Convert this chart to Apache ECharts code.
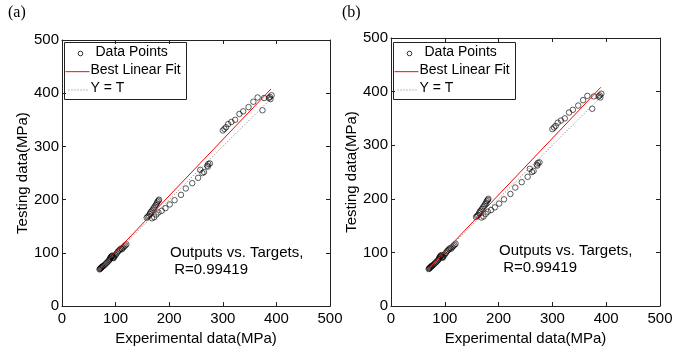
<!DOCTYPE html>
<html>
<head>
<meta charset="utf-8">
<script src="https://cdn.jsdelivr.net/npm/echarts@6/dist/echarts.min.js"></script>
<style>
  html, body { margin: 0; padding: 0; background: #fff; }
  #main { width: 676px; height: 351px; }
</style>
</head>
<body>
<div id="main"></div>
<script>
// 数据点 (Experimental, Testing)
var expData = [70, 71, 72, 73, 74, 75, 76, 78, 80, 82, 84, 86, 88, 89, 90, 91, 92, 93, 94, 95, 96, 97, 98, 100, 102, 104, 106, 108, 110, 112, 114, 116, 118, 120,
  158, 160, 162, 164, 165, 167, 169, 171, 173, 175, 177, 178, 180, 181,
  168, 172, 176, 180, 186, 193, 201, 210, 222, 231, 243, 254, 258, 262, 265, 271, 272, 273, 276,
  300, 303, 306, 310, 316, 323, 331, 338, 348, 357, 365, 374, 377, 386, 388, 389, 391];
var testData = [69, 70, 71, 72, 73, 74, 75, 76, 78, 80, 82, 84, 86, 88, 90, 92, 93, 94, 95, 91, 90, 92, 94, 96, 99, 102, 104, 106, 108, 107, 110, 112, 114, 116,
  166, 168, 170, 173, 176, 178, 181, 184, 187, 190, 193, 196, 198, 200,
  165, 167, 172, 176, 179, 184, 191, 199, 209, 221, 231, 241, 256, 250, 252, 264, 262, 267, 268,
  330, 333, 336, 342, 346, 350, 361, 366, 374, 384, 392, 368, 391, 391, 393, 389, 396];
// 拟合线和 Y=T 的端点
var fitX = [70, 390];
var fitY = [70, 408];
var idX = [70, 390];
var idY = [70, 390];
var legendNames = ['Data Points', 'Best Linear Fit', 'Y = T'];

var points = expData.map(function (v, i) { return [v, testData[i]]; });
var fitLine = fitX.map(function (v, i) { return [v, fitY[i]]; });
var idLine = idX.map(function (v, i) { return [v, idY[i]]; });

var font = 'Liberation Sans, Arial, sans-serif';
var grids = [
  { left: 62, top: 40, width: 268, height: 267 },
  { left: 391, top: 38, width: 269, height: 268 }
];

function makeAxis(gridIndex, pos, isMain, name) {
  return {
    type: 'value', gridIndex: gridIndex, position: pos,
    min: 0, max: 500, interval: 100,
    name: isMain ? name : '',
    nameLocation: 'middle',
    nameGap: pos === 'bottom' ? 16 : 32,
    nameTextStyle: { color: '#000', fontFamily: font, fontSize: 15 },
    axisLine: { show: true, onZero: false, lineStyle: { color: '#222', width: 1 } },
    axisTick: { show: true, inside: true, length: 4, lineStyle: { color: '#222' } },
    axisLabel: { show: isMain, color: '#000', fontFamily: font, fontSize: 15, margin: pos === 'bottom' ? 5 : 3 },
    splitLine: { show: false }
  };
}

// 图例（手工画的 MATLAB 风格图例框）
function makeLegend(x, y) {
  var f = '14px ' + font;
  return {
    type: 'group', left: x, top: y, z: 100,
    children: [
      { type: 'rect', shape: { x: 0, y: 0, width: 122, height: 57 }, style: { fill: '#fff', stroke: '#222', lineWidth: 1 } },
      { type: 'circle', shape: { cx: 16, cy: 11, r: 2.3 }, style: { fill: 'none', stroke: '#000', lineWidth: 0.8 } },
      { type: 'text', x: 31, y: 3, style: { text: legendNames[0], fill: '#000', font: f } },
      { type: 'rect', shape: { x: 1, y: 28.5, width: 24, height: 1.2 }, style: { fill: '#ff3030' } },
      { type: 'text', x: 26, y: 21, style: { text: legendNames[1], fill: '#000', font: f } },
      { type: 'line', shape: { x1: 4, y1: 47.5, x2: 25, y2: 47.5 }, style: { stroke: '#777', lineWidth: 1, lineDash: [1, 2] } },
      { type: 'text', x: 26, y: 39, style: { text: legendNames[2], fill: '#000', font: f } }
    ]
  };
}

var xAxes = [], yAxes = [], series = [], texts = [];
grids.forEach(function (g, k) {
  xAxes.push(makeAxis(k, 'bottom', true, 'Experimental data(MPa)'));
  xAxes.push(makeAxis(k, 'top', false));
  yAxes.push(makeAxis(k, 'left', true, 'Testing data(MPa)'));
  yAxes.push(makeAxis(k, 'right', false));
  series.push({
    name: legendNames[0], type: 'scatter', xAxisIndex: k * 2, yAxisIndex: k * 2,
    symbol: 'circle', symbolSize: 5.5,
    itemStyle: { color: 'rgba(0,0,0,0)', borderColor: '#000', borderWidth: 0.8 },
    data: points
  });
  series.push({
    name: legendNames[1], type: 'line', xAxisIndex: k * 2, yAxisIndex: k * 2,
    symbol: 'none', lineStyle: { color: '#f00', width: 1 },
    data: fitLine
  });
  series.push({
    name: legendNames[2], type: 'line', xAxisIndex: k * 2, yAxisIndex: k * 2,
    symbol: 'none', lineStyle: { color: '#777', width: 1, type: [1, 2] },
    data: idLine
  });
  texts.push(makeLegend(g.left + 2, 42));
  texts.push({
    type: 'text', left: g.left + 108, top: g.top + 204,
    style: { text: 'Outputs vs. Targets,\n R=0.99419', fill: '#000', font: '15px ' + font, lineHeight: 17 }
  });
});

texts.push({ type: 'text', left: 8, top: 5, style: { text: '(a)', fill: '#000', font: '16px Liberation Serif, serif' } });
texts.push({ type: 'text', left: 342, top: 5, style: { text: '(b)', fill: '#000', font: '16px Liberation Serif, serif' } });

var chart = echarts.init(document.getElementById('main'));
chart.setOption({
  backgroundColor: '#fff',
  animation: false,
  grid: grids,
  xAxis: xAxes,
  yAxis: yAxes,
  series: series,
  graphic: texts
});
</script>
</body>
</html>
